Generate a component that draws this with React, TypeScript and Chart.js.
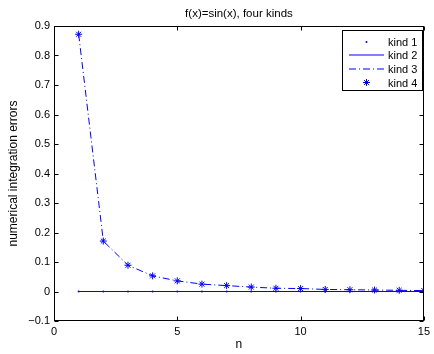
import React, { useEffect, useRef } from "react";
import { Chart, registerables } from "chart.js";

Chart.register(...registerables);

const titleText = "f(x)=sin(x), four kinds";
const xLabel = "n";
const yLabel = "numerical integration errors";
const nValues = [1, 2, 3, 4, 5, 6, 7, 8, 9, 10, 11, 12, 13, 14, 15];
const kind1 = [0, 0, 0, 0, 0, 0, 0, 0, 0, 0, 0, 0, 0, 0, 0];
const kind2 = [0, 0, 0, 0, 0, 0, 0, 0, 0, 0, 0, 0, 0, 0, 0];
const kind3 = [0.872, 0.171, 0.089, 0.053, 0.036, 0.025, 0.02, 0.015, 0.011, 0.01, 0.007, 0.006, 0.005, 0.004, 0.003];
const kind4 = [0.872, 0.171, 0.089, 0.053, 0.036, 0.025, 0.02, 0.015, 0.011, 0.01, 0.007, 0.006, 0.005, 0.004, 0.003];
const seriesNames = ["kind 1", "kind 2", "kind 3", "kind 4"];

const BLUE = "#0000ff";
const FONT = "'Liberation Sans', Arial, Helvetica, sans-serif";
const DASHDOT = [7, 3, 1, 3];

function toPoints(vals: number[]) {
  return nValues.map((n, i) => ({ x: n, y: vals[i] }));
}

function drawStar(ctx: CanvasRenderingContext2D, x: number, y: number, r: number) {
  ctx.beginPath();
  for (let k = 0; k < 4; k++) {
    const a = (k * Math.PI) / 4;
    ctx.moveTo(x - r * Math.cos(a), y - r * Math.sin(a));
    ctx.lineTo(x + r * Math.cos(a), y + r * Math.sin(a));
  }
  ctx.stroke();
}

const framePlugin = {
  id: "matlabFrame",
  afterDatasetsDraw(chart: any) {
    const { ctx, chartArea } = chart;
    const { left, right, top, bottom } = chartArea;
    ctx.save();
    ctx.strokeStyle = "#000";
    ctx.lineWidth = 1;
    ctx.setLineDash([]);
    const L = Math.round(left) + 0.5;
    const R = Math.round(right) - 0.5;
    const T = Math.round(top) + 0.5;
    const B = Math.round(bottom) - 0.5;
    ctx.strokeRect(L, T, R - L, B - T);
    const tl = 4;
    ctx.beginPath();
    chart.scales.x.ticks.forEach((t: any) => {
      const px = Math.round(chart.scales.x.getPixelForValue(t.value)) + 0.5;
      ctx.moveTo(px, B);
      ctx.lineTo(px, B - tl);
      ctx.moveTo(px, T);
      ctx.lineTo(px, T + tl);
    });
    chart.scales.y.ticks.forEach((t: any) => {
      const py = Math.round(chart.scales.y.getPixelForValue(t.value)) + 0.5;
      ctx.moveTo(L, py);
      ctx.lineTo(L + tl, py);
      ctx.moveTo(R, py);
      ctx.lineTo(R - tl, py);
    });
    ctx.stroke();
    ctx.restore();
  },
  afterDraw(chart: any) {
    const { ctx, chartArea } = chart;
    ctx.save();
    // title
    ctx.fillStyle = "#000";
    ctx.font = `11.5px ${FONT}`;
    ctx.textAlign = "center";
    ctx.textBaseline = "middle";
    ctx.fillText(titleText, (chartArea.left + chartArea.right) / 2, 14);

    // legend
    const bx = 342.5, by = 30.5, bw = 80, bh = 60;
    ctx.fillStyle = "#fff";
    ctx.fillRect(bx, by, bw, bh);
    ctx.strokeStyle = "#000";
    ctx.lineWidth = 1;
    ctx.strokeRect(bx, by, bw, bh);
    const rows = [42, 55, 69, 82.5];
    const x0 = 349, x1 = 384, xm = 366.5;
    ctx.font = `11px ${FONT}`;
    ctx.textAlign = "left";
    ctx.textBaseline = "middle";
    rows.forEach((ry, i) => {
      ctx.strokeStyle = BLUE;
      ctx.fillStyle = BLUE;
      ctx.lineWidth = 1;
      if (i === 0) {
        ctx.beginPath();
        ctx.arc(xm, ry, 1, 0, Math.PI * 2);
        ctx.fill();
      } else if (i === 1) {
        ctx.setLineDash([]);
        ctx.beginPath();
        ctx.moveTo(x0, ry);
        ctx.lineTo(x1, ry);
        ctx.stroke();
      } else if (i === 2) {
        ctx.setLineDash(DASHDOT);
        ctx.beginPath();
        ctx.moveTo(x0, ry);
        ctx.lineTo(x1, ry);
        ctx.stroke();
        ctx.setLineDash([]);
      } else {
        drawStar(ctx, xm, ry, 3.5);
      }
      ctx.fillStyle = "#000";
      ctx.fillText(seriesNames[i], 388, Math.round(ry) + 0.5);
    });
    ctx.restore();
  },
};

export default function App() {
  const ref = useRef<HTMLCanvasElement | null>(null);
  useEffect(() => {
    document.body.style.margin = "0";
    const canvas = ref.current;
    if (!canvas) return;
    const tickFont = { family: FONT, size: 11 };
    const chart = new Chart(canvas, {
      type: "scatter",
      data: {
        datasets: [
          {
            label: seriesNames[0],
            data: toPoints(kind1),
            showLine: false,
            pointStyle: "circle",
            pointRadius: 1,
            pointBackgroundColor: BLUE,
            pointBorderColor: BLUE,
            pointBorderWidth: 0,
          },
          {
            label: seriesNames[1],
            data: toPoints(kind2),
            showLine: true,
            borderColor: BLUE,
            borderWidth: 1,
            pointRadius: 0,
          },
          {
            label: seriesNames[2],
            data: toPoints(kind3),
            showLine: true,
            borderColor: BLUE,
            borderWidth: 1,
            borderDash: DASHDOT,
            pointRadius: 0,
          },
          {
            label: seriesNames[3],
            data: toPoints(kind4),
            showLine: false,
            pointStyle: "star",
            pointRadius: 3.5,
            pointBorderColor: BLUE,
            pointBackgroundColor: BLUE,
            pointBorderWidth: 1,
          },
        ],
      } as any,
      options: {
        responsive: false,
        animation: false,
        devicePixelRatio: 1,
        layout: { padding: { top: 26, right: 6, bottom: 0, left: 0 } },
        plugins: {
          legend: { display: false },
          tooltip: { enabled: false },
          title: { display: false },
        },
        scales: {
          x: {
            type: "linear",
            min: 0,
            max: 15,
            grid: { display: false, drawTicks: false },
            border: { display: false },
            ticks: {
              stepSize: 5,
              padding: 4,
              color: "#000",
              font: tickFont,
              maxRotation: 0,
              autoSkip: false,
            },
            title: {
              display: true,
              text: xLabel,
              color: "#000",
              font: { family: FONT, size: 12 },
              padding: { top: 2, bottom: 2 },
            },
            afterFit: (s: any) => {
              s.height = 33;
            },
          },
          y: {
            type: "linear",
            min: -0.1,
            max: 0.9,
            grid: { display: false, drawTicks: false },
            border: { display: false },
            ticks: {
              stepSize: 0.1,
              padding: 4,
              color: "#000",
              font: tickFont,
              autoSkip: false,
              callback: (v: any) => {
                const r = Math.round(Number(v) * 10) / 10;
                if (r === 0) return "0";
                return r < 0 ? "\u2212" + Math.abs(r).toString() : r.toString();
              },
            },
            title: {
              display: true,
              text: yLabel,
              color: "#000",
              font: { family: FONT, size: 12 },
              padding: { top: 6, bottom: 0 },
            },
            afterFit: (s: any) => {
              s.width = 54;
            },
          },
        },
      } as any,
      plugins: [framePlugin],
    });
    return () => chart.destroy();
  }, []);
  return (
    <div style={{ position: "fixed", left: 0, top: 0, width: 434, height: 354, background: "#fff" }}>
      <canvas ref={ref} width={434} height={354} />
    </div>
  );
}
